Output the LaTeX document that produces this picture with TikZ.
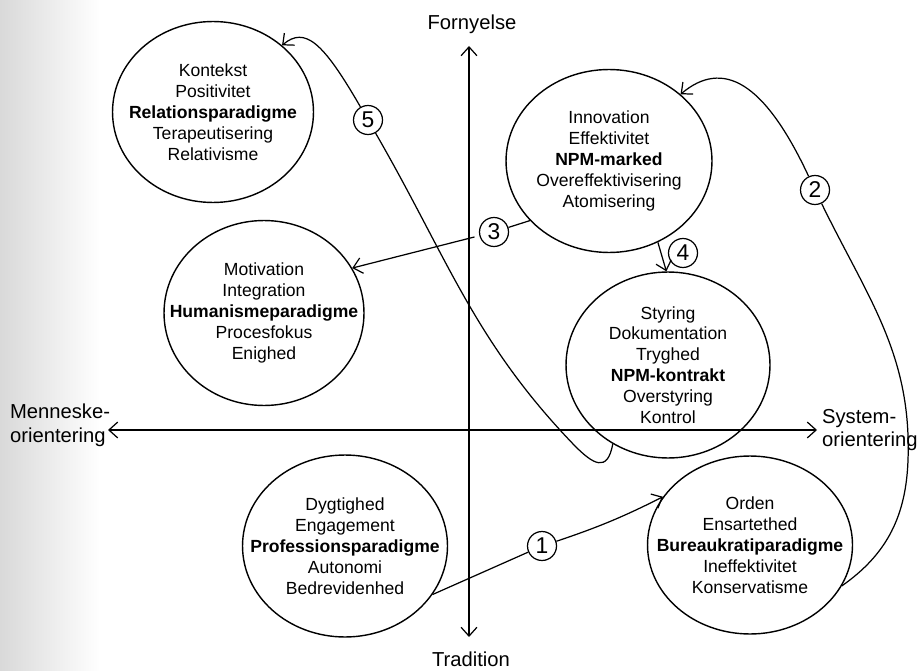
\documentclass[tikz,border=0pt]{standalone}
\usepackage{fontspec}
\setmainfont{Liberation Sans}
\usetikzlibrary{shapes.geometric}
\usetikzlibrary{arrows.meta}

\tikzset{
	paradigme/.style={draw, ellipse, line width=0.8pt, inner sep=0pt, minimum width=4.1cm, minimum height=3.64cm},
	words/.style={align=center, font=\fontsize{10}{11.9}\selectfont},
	nummer/.style={draw, circle, line width=0.7pt, inner sep=0pt, minimum size=0.58cm, font=\fontsize{13}{15}\selectfont},
	akse/.style={align=left, inner sep=2pt, font=\fontsize{11.5}{13.6}\selectfont},
}

\begin{document}
\begin{tikzpicture}[x=0.02cm, y=0.02cm, line width=0.7pt, >={Straight Barb[length=5pt,width=9pt]}]
	\useasboundingbox (0,0) rectangle (918,670);
	\shade[left color=black!15, right color=white] (0,0) rectangle (100,670);
	% axes
	\coordinate (top) at (469,624);
	\coordinate (bund) at (469,33);
	\coordinate (venstre) at (108,240);
	\coordinate (hoejre) at (817,240);
	\draw[<->] (top) -- (bund);
	\draw[<->] (venstre) -- (hoejre);
	\node[akse] (fornyelse) at (472,646) {Fornyelse};
	\node[akse] (tradition) at (471,11) {Tradition};
	\node[akse, anchor=west] (menneske) at (6,245) {Menneske-\\orientering};
	\node[akse, anchor=west] (system) at (818,240) {System-\\orientering};
	% paradigms
	\node[paradigme, minimum width=4.02cm, minimum height=3.62cm, label={[words]center:{Kontekst\\Positivitet\\\textbf{Relationsparadigme}\\Terapeutisering\\Relativisme}}] (relation) at (213,558) {};
	\node[paradigme, minimum width=4.12cm, minimum height=3.66cm, label={[words]center:{Innovation\\Effektivitet\\\textbf{NPM-marked}\\Overeffektivisering\\Atomisering}}] (npmmarked) at (609,509) {};
	\node[paradigme, minimum width=4.0cm, minimum height=3.7cm, label={[words]center:{Motivation\\Integration\\\textbf{Humanismeparadigme}\\Procesfokus\\Enighed}}] (humanisme) at (264,357) {};
	\node[paradigme, minimum width=4.08cm, minimum height=3.72cm, label={[words]center:{Styring\\Dokumentation\\Tryghed\\\textbf{NPM-kontrakt}\\Overstyring\\Kontrol}}] (npmkontrakt) at (668,305) {};
	\node[paradigme, label={[words]center:{Dygtighed\\Engagement\\\textbf{Professionsparadigme}\\Autonomi\\Bedrevidenhed}}] (profession) at (345,124) {};
	\node[paradigme, minimum height=3.56cm, label={[words]center:{Orden\\Ensartethed\\\textbf{Bureaukratiparadigme}\\Ineffektivitet\\Konservatisme}}] (bureau) at (750,125) {};
	% numbers
	\node[nummer] (n1) at (542,124) {1};
	\node[nummer] (n2) at (815,480) {2};
	\node[nummer] (n3) at (494,438) {3};
	\node[nummer] (n4) at (683,417) {4};
	\node[nummer] (n5) at (368,550) {5};
	% transitions
	\draw[->] (profession.-29) -- (n1) to[bend right=4] (bureau.151);
	\draw[->] (bureau.-24) to[out=35, in=-92] (908,210) to[out=88, in=-64] (n2)
		.. controls +(115:120) and +(40:55) .. (npmmarked.43);
	\draw[->, shorten <=1mm] (npmmarked.-143) -- (n3) -- (humanisme.27);
	\draw[->] (npmmarked.-59) -- (npmkontrakt.91);
	\draw[->] (npmkontrakt.-125) .. controls +(-100:30) and +(-45:25) .. (575,224)
		to[out=134, in=-60] (n5) .. controls +(120:90) and +(40:30) .. (relation.44);
\end{tikzpicture}
\end{document}
